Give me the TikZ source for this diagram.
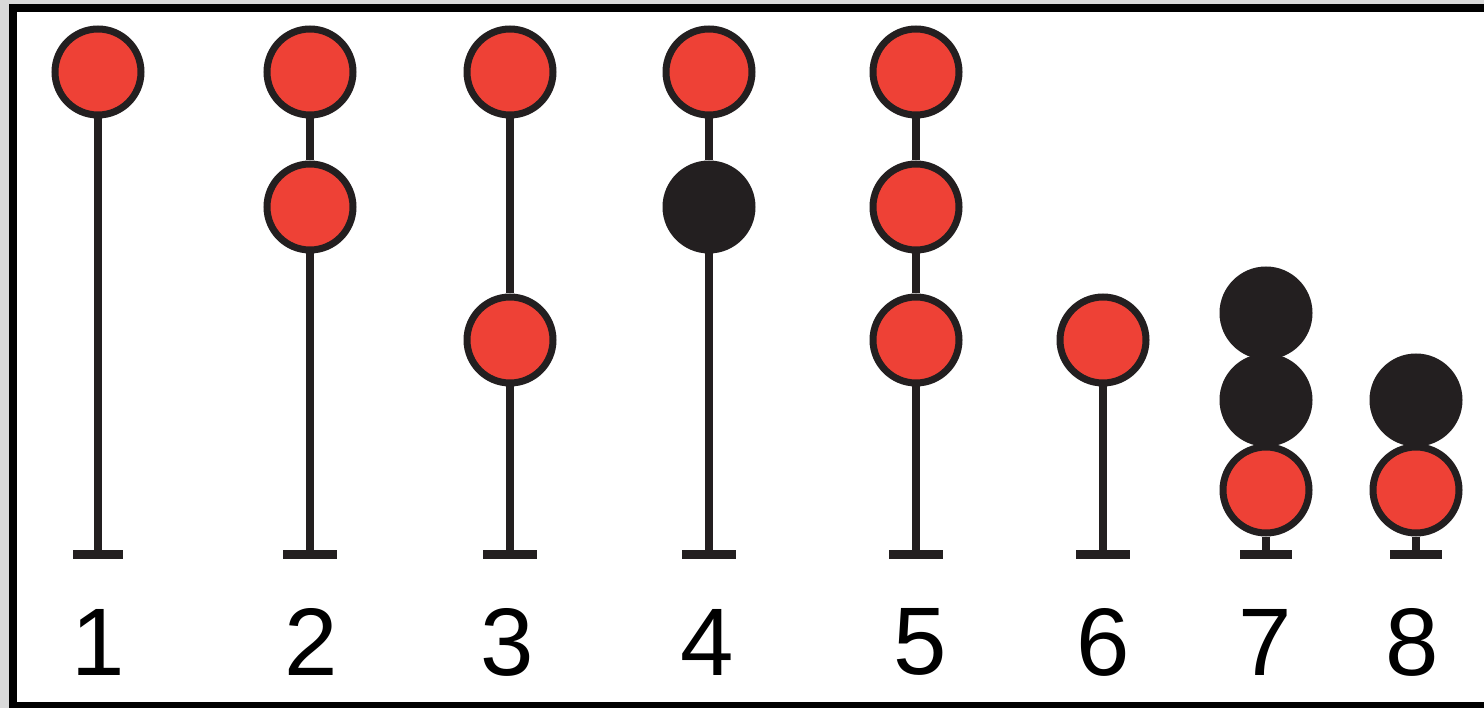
\documentclass[tikz,border=0pt]{standalone}
\usepackage{fontspec}
\setmainfont{Liberation Sans}
\definecolor{ink}{HTML}{231F20}
\definecolor{dotred}{HTML}{EE4136}
\definecolor{framegray}{HTML}{D9D9D9}
\begin{document}
\begin{tikzpicture}[x=1pt,y=-1pt,
  ball/.style={circle,draw=ink,line width=7pt,minimum size=86pt,inner sep=0pt},
  redball/.style={ball,fill=dotred},
  blackball/.style={ball,fill=ink},
  stem/.style={draw=ink,line width=8pt},
  foot/.style={draw=ink,line width=9pt},
  lab/.style={font=\fontsize{96}{96}\selectfont,text=black,inner sep=0pt}]
\useasboundingbox (0,0) rectangle (1484,708);
\fill[framegray] (0,0) rectangle (1484,708);
\fill[black] (9,4) rectangle (1484,708);
\fill[white] (17,12) rectangle (1484,702);

% column 1
\node[redball] (c1a) at (98,72) {};
\coordinate (f1) at (98,554);
\draw[stem] (c1a.south) -- (f1);
\draw[foot] ([xshift=-25pt]f1) -- ([xshift=25pt]f1);
\node[lab] (l1) at (98,642) {1};

% column 2
\node[redball] (c2a) at (310,72) {};
\node[redball] (c2b) at (310,207) {};
\coordinate (f2) at (310,554);
\draw[stem] (c2a.south) -- (c2b.north);
\draw[stem] (c2b.south) -- (f2);
\draw[foot] ([xshift=-27pt]f2) -- ([xshift=27pt]f2);
\node[lab] (l2) at (311,642) {2};

% column 3
\node[redball] (c3a) at (510,72) {};
\node[redball] (c3b) at (510,340) {};
\coordinate (f3) at (510,554);
\draw[stem] (c3a.south) -- (c3b.north);
\draw[stem] (c3b.south) -- (f3);
\draw[foot] ([xshift=-27pt]f3) -- ([xshift=27pt]f3);
\node[lab] (l3) at (507,642) {3};

% column 4
\node[redball] (c4a) at (709,72) {};
\node[blackball] (c4b) at (709,207) {};
\coordinate (f4) at (709,554);
\draw[stem] (c4a.south) -- (c4b.north);
\draw[stem] (c4b.south) -- (f4);
\draw[foot] ([xshift=-27pt]f4) -- ([xshift=27pt]f4);
\node[lab] (l4) at (707,642) {4};

% column 5
\node[redball] (c5a) at (916,72) {};
\node[redball] (c5b) at (916,207) {};
\node[redball] (c5c) at (916,340) {};
\coordinate (f5) at (916,554);
\draw[stem] (c5a.south) -- (c5b.north);
\draw[stem] (c5b.south) -- (c5c.north);
\draw[stem] (c5c.south) -- (f5);
\draw[foot] ([xshift=-27pt]f5) -- ([xshift=27pt]f5);
\node[lab] (l5) at (920,642) {5};

% column 6
\node[redball] (c6a) at (1103,340) {};
\coordinate (f6) at (1103,554);
\draw[stem] (c6a.south) -- (f6);
\draw[foot] ([xshift=-27pt]f6) -- ([xshift=27pt]f6);
\node[lab] (l6) at (1103,642) {6};

% column 7
\node[blackball] (c7a) at (1266,313) {};
\node[blackball] (c7b) at (1266,400) {};
\node[redball] (c7c) at (1266,490) {};
\coordinate (f7) at (1266,554);
\draw[stem] (c7c.south) -- (f7);
\draw[foot] ([xshift=-26pt]f7) -- ([xshift=26pt]f7);
\node[lab] (l7) at (1265,642) {7};

% column 8
\node[blackball] (c8a) at (1416,400) {};
\node[redball] (c8b) at (1416,490) {};
\coordinate (f8) at (1416,554);
\draw[stem] (c8b.south) -- (f8);
\draw[foot] ([xshift=-26pt]f8) -- ([xshift=26pt]f8);
\node[lab] (l8) at (1412,642) {8};
\end{tikzpicture}
\end{document}
